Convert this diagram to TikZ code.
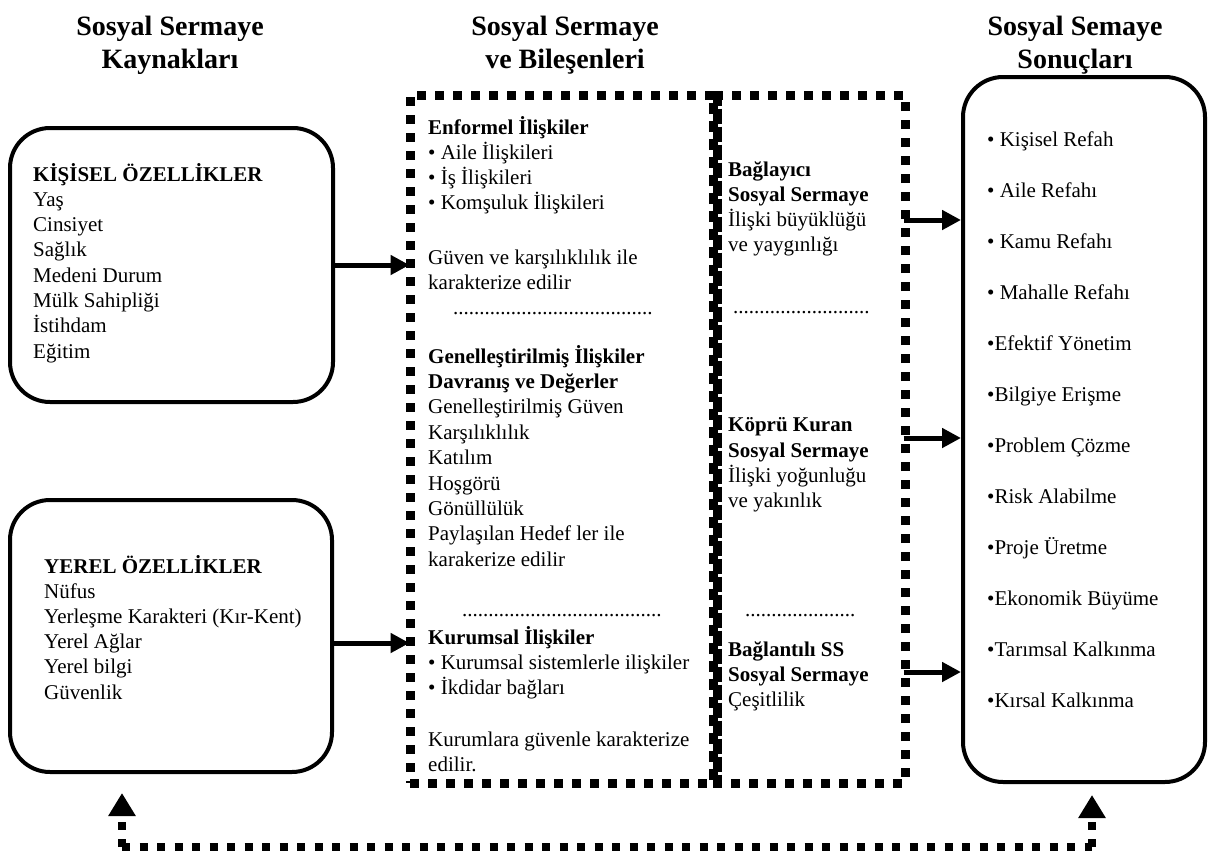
\documentclass[tikz,border=0pt]{standalone}
\usepackage{fontspec}
\setmainfont{Liberation Serif}
\usetikzlibrary{arrows.meta,calc}
\tikzset{
 txt/.style={anchor=base west, inner sep=0pt, font=\fontsize{21}{25}\selectfont},
 btxt/.style={anchor=base west, inner sep=0pt, font=\fontsize{21}{25}\selectfont\bfseries},
 hdr/.style={anchor=base, inner sep=0pt, font=\fontsize{28}{33}\selectfont\bfseries},
 rbox/.style={draw, line width=4pt, rounded corners=40pt, inner sep=0pt},
 dbox/.style={draw, line width=9pt, dash pattern=on 9pt off 9pt, inner sep=0pt},
 sharededge/.style={line width=9pt, dash pattern=on 15pt off 3pt},
 arr/.style={line width=5pt, -{Triangle[length=19pt,width=19pt]}},
 fb/.style={line width=8pt, dash pattern=on 8pt off 9.5pt},
 fbarr/.style={line width=8pt, dash pattern=on 8pt off 9.5pt, -{Triangle[length=23pt,width=26pt]}},
}
\newcommand\dotrow[1]{\hbox to #1{\leaders\hbox to 5.25pt{\hss.\hss}\hfill}}
\begin{document}
\begin{tikzpicture}[x=1pt,y=-1pt]
\useasboundingbox (0,0) rectangle (1208,854);
% headers
\node[hdr] (h1a) at (170,35) {Sosyal Sermaye};
\node[hdr] (h1b) at (170,68) {Kaynakları};
\node[hdr] (h2a) at (565,35) {Sosyal Sermaye};
\node[hdr] (h2b) at (565,68) {ve Bileşenleri};
\node[hdr] (h3a) at (1075,35) {Sosyal Semaye};
\node[hdr] (h3b) at (1075,68) {Sonuçları};
% left boxes
\node[rbox, minimum width=323pt, minimum height=274pt] (kb) at (171.5,265) {};
\node[rbox, minimum width=322pt, minimum height=272pt] (yb) at (171,636) {};
\node[btxt] (kt) at (33,181) {KİŞİSEL ÖZELLİKLER};
\foreach \t [count=\i from 1] in {Yaş,Cinsiyet,Sağlık,Medeni Durum,Mülk Sahipliği,İstihdam,Eğitim}
  \node[txt] (ka\i) at (33,181+25.3*\i) {\t};
\node[btxt] (yt) at (44,573) {YEREL ÖZELLİKLER};
\foreach \t [count=\i from 1] in {Nüfus,Yerleşme Karakteri (Kır-Kent),Yerel Ağlar,Yerel bilgi,Güvenlik}
  \node[txt] (ya\i) at (44,573+25.2*\i) {\t};
% middle dashed boxes
\node[dbox, minimum width=303pt, minimum height=688pt] (m1) at (561.5,439) {};
\node[dbox, minimum width=192pt, minimum height=688pt] (m2) at (809,439) {};
\draw[sharededge] (m1.north east) -- (m1.south east);
% middle left text
\node[btxt] (e0) at (428,134) {Enformel İlişkiler};
\node[txt] (e1) at (428,159) {• Aile İlişkileri};
\node[txt] (e2) at (428,184) {• İş İlişkileri};
\node[txt] (e3) at (428,209) {• Komşuluk İlişkileri};
\node[txt] (e4) at (428,264) {Güven ve karşılıklılık ile};
\node[txt] (e5) at (428,289) {karakterize edilir};
\node[txt] (d1) at (453,314) {\dotrow{200pt}};
\node[btxt] (g0) at (428,363) {Genelleştirilmiş İlişkiler};
\node[btxt] (g1) at (428,388) {Davranış ve Değerler};
\foreach \t [count=\i from 2] in {Genelleştirilmiş Güven,Karşılıklılık,Katılım,Hoşgörü,Gönüllülük,Paylaşılan Hedef ler ile,karakerize edilir}
  \node[txt] (g\i) at (428,363+25.4*\i) {\t};
\node[txt] (d2) at (462,616) {\dotrow{201pt}};
\node[btxt] (q0) at (428,644) {Kurumsal İlişkiler};
\node[txt] (q1) at (428,669) {• Kurumsal sistemlerle ilişkiler};
\node[txt] (q2) at (428,694) {• İkdidar bağları};
\node[txt] (q3) at (428,746) {Kurumlara güvenle karakterize};
\node[txt] (q4) at (428,771) {edilir.};
% middle right text
\node[btxt] (b0) at (728,176) {Bağlayıcı};
\node[btxt] (b1) at (728,201) {Sosyal Sermaye};
\node[txt] (b2) at (728,226) {İlişki büyüklüğü};
\node[txt] (b3) at (728,251) {ve yaygınlığı};
\node[txt] (d3) at (733,313) {\dotrow{139pt}};
\node[btxt] (c0) at (728,431) {Köprü Kuran};
\node[btxt] (c1) at (728,457) {Sosyal Sermaye};
\node[txt] (c2) at (728,482) {İlişki yoğunluğu};
\node[txt] (c3) at (728,507) {ve yakınlık};
\node[txt] (d4) at (745,616) {\dotrow{115pt}};
\node[btxt] (s0) at (728,656) {Bağlantılı SS};
\node[btxt] (s1) at (728,681) {Sosyal Sermaye};
\node[txt] (s2) at (728,706) {Çeşitlilik};
% right box
\node[rbox, minimum width=242pt, minimum height=705pt] (r) at (1084,429.5) {};
\foreach \t [count=\i from 0] in {• Kişisel Refah,• Aile Refahı,• Kamu Refahı,• Mahalle Refahı,•Efektif Yönetim,•Bilgiye Erişme,•Problem Çözme,•Risk Alabilme,•Proje Üretme,•Ekonomik Büyüme,•Tarımsal Kalkınma,•Kırsal Kalkınma}
  \node[txt] (r\i) at (987,146+51*\i) {\t};
% arrows
\draw[arr] (kb.east) -- ([xshift=4pt]kb.east -| m1.west);
\draw[arr] ([yshift=-7pt]yb.east) -- ([yshift=-7pt,xshift=4pt]yb.east -| m1.west);
\coordinate (a1) at (0,220);
\coordinate (a2) at (0,438);
\coordinate (a3) at (0,672);
\draw[arr] ([xshift=-6pt]m2.east |- a1) -- (r.west |- a1);
\draw[arr] ([xshift=-6pt]m2.east |- a2) -- (r.west |- a2);
\draw[arr] ([xshift=-6pt]m2.east |- a3) -- (r.west |- a3);
% feedback loop
\coordinate (fl) at (122,847);
\coordinate (fr) at (1092,847);
\draw[fb] (fl) -- (fr);
\draw[fbarr] (fl) -- ($(yb.south -| fl)+(0,19)$);
\draw[fbarr] (fr) -- ($(r.south -| fr)+(0,11)$);
\end{tikzpicture}
\end{document}
